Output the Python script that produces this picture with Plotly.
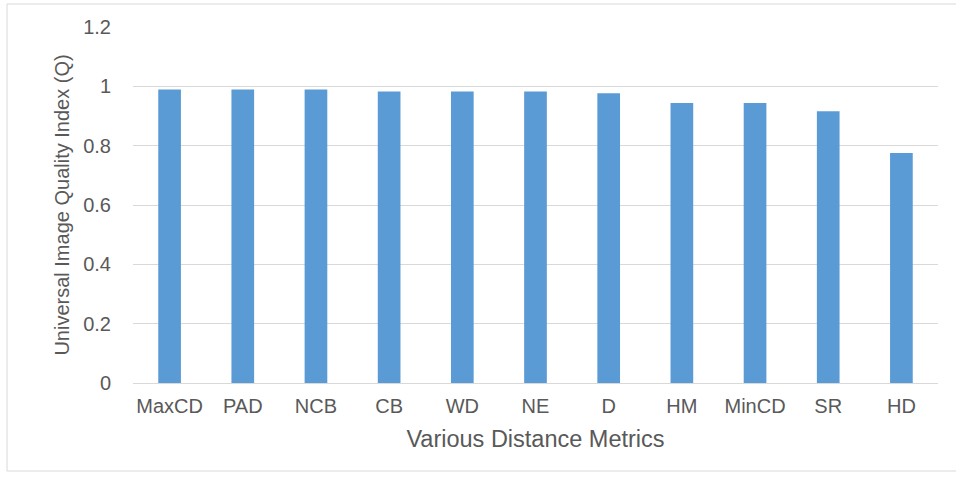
import plotly.graph_objects as go

# Distance metrics and their universal image quality index
metrics = ["MaxCD", "PAD", "NCB", "CB", "WD", "NE", "D", "HM", "MinCD", "SR", "HD"]
q_values = [0.989, 0.989, 0.989, 0.983, 0.983, 0.983, 0.977, 0.944, 0.944, 0.916, 0.775]
y_ticks = [0, 0.2, 0.4, 0.6, 0.8, 1.0, 1.2]
y_tick_text = ["0", "0.2", "0.4", "0.6", "0.8", "1", "1.2"]

W, H = 956, 479
ML, MR, MT, MB = 133, 18, 27, 96

text_col = "#595959"
grid_col = "#D9D9D9"
font_family = "Liberation Sans, Arial, sans-serif"

fig = go.Figure(
    go.Bar(
        x=metrics,
        y=q_values,
        marker=dict(color="#5B9BD5", line=dict(width=0)),
        width=0.31,
    )
)

# light frame around the chart area (its right edge runs off the page)
pw, ph = W - ML - MR, H - MT - MB
def px_x(p):
    return (p - ML) / pw
def px_y(p):
    return (H - MB - p) / ph

fig.add_shape(
    type="rect", xref="paper", yref="paper",
    x0=px_x(7), x1=px_x(975), y0=px_y(471), y1=px_y(4),
    line=dict(color="#D9D9D9", width=1), fillcolor="rgba(0,0,0,0)", layer="below",
)

fig.update_layout(
    width=W, height=H,
    margin=dict(l=ML, r=MR, t=MT, b=MB),
    paper_bgcolor="white", plot_bgcolor="white",
    showlegend=False,
    font=dict(family=font_family, color=text_col, size=20),
)
fig.update_xaxes(
    showgrid=False,
    showline=True, linecolor=grid_col, linewidth=1,
    ticks="", tickfont=dict(size=20, color=text_col),
    ticklabelstandoff=5,
    title=dict(text="Various Distance Metrics", font=dict(size=23.5, color=text_col), standoff=14),
)
fig.update_yaxes(
    range=[0, 1.2],
    tickvals=y_ticks, ticktext=y_tick_text,
    showgrid=True, gridcolor=grid_col, gridwidth=1,
    zeroline=False, showline=False, ticks="",
    tickfont=dict(size=20, color=text_col),
    ticklabelstandoff=21,
    title=dict(text="Universal Image Quality Index (Q)", font=dict(size=20, color=text_col), standoff=8),
)

fig.write_html("out.html")
